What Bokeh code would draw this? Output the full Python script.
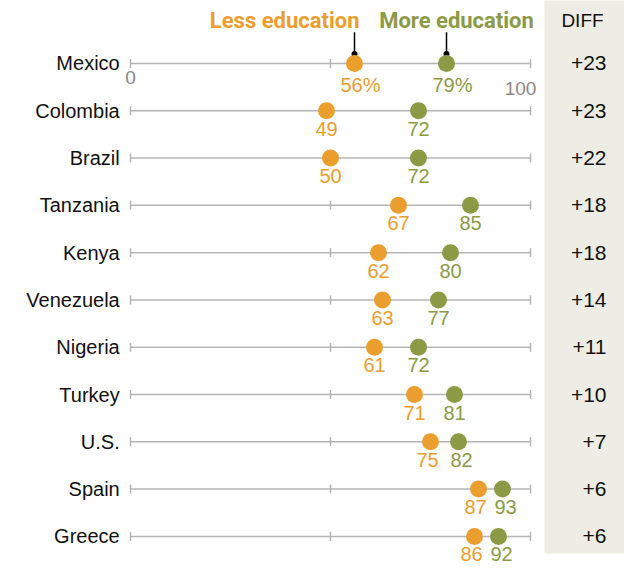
from bokeh.plotting import figure
from bokeh.models import ColumnDataSource, Range1d
from bokeh.core.properties import value
from bokeh.embed import file_html
from bokeh.resources import INLINE

countries = ["Mexico", "Colombia", "Brazil", "Tanzania", "Kenya", "Venezuela",
             "Nigeria", "Turkey", "U.S.", "Spain", "Greece"]
less_edu = [56, 49, 50, 67, 62, 63, 61, 71, 75, 87, 86]
more_edu = [79, 72, 72, 85, 80, 77, 72, 81, 82, 93, 92]
diff_labels = ["+23", "+23", "+22", "+18", "+18", "+14", "+11", "+10", "+7", "+6", "+6"]
scale_ticks = [0, 50, 100]

ORANGE = "#EA9E2E"
GREEN = "#8C9A46"
GREY_LINE = "#B4B4B4"
PANEL = "#EEEDE5"
FONT = "Liberation Sans"
BOLD_FONT = "Roboto"

n = len(countries)
rows = list(range(n))

p = figure(width=624, height=569, output_backend="svg", toolbar_location=None,
           x_range=Range1d(-32.5, 123.5), y_range=Range1d(10.70, -1.332),
           min_border=0, outline_line_color=None)
p.axis.visible = False
p.grid.visible = False
p.background_fill_color = "white"

# DIFF panel
p.quad(left=[103.5], right=[130], top=[-2], bottom=[10.36],
       fill_color=PANEL, line_color=None)

# row lines
p.segment(x0=[0] * n, x1=[100] * n, y0=rows, y1=rows, line_color=GREY_LINE, line_width=1.5)
# ticks
tx, ty = [], []
for r in rows:
    for t in scale_ticks:
        tx.append(t)
        ty.append(r)
p.scatter(x=tx, y=ty, marker="dash", angle=1.5708, size=9, line_color=GREY_LINE, line_width=1.5)

# country labels
p.text(x=[-2.7] * n, y=rows, text=countries, text_align="right", text_baseline="middle",
       text_font=value(FONT), text_font_size="20px", text_color="#111111")

# leader lines for legend (first row)
p.segment(x0=[less_edu[0], more_edu[0]], x1=[less_edu[0], more_edu[0]],
          y0=[-0.66, -0.66], y1=[-0.2, -0.2], line_color="black", line_width=1.5)
p.scatter(x=[less_edu[0], more_edu[0]], y=[-0.2, -0.2], size=6, fill_color="black", line_color=None)

# dots
p.scatter(x=less_edu, y=rows, size=17, fill_color=ORANGE, line_color=None)
p.scatter(x=more_edu, y=rows, size=17, fill_color=GREEN, line_color=None)

# value labels
less_txt = [str(v) + ("%" if i == 0 else "") for i, v in enumerate(less_edu)]
more_txt = [str(v) + ("%" if i == 0 else "") for i, v in enumerate(more_edu)]
less_off, more_off = [], []
for i in rows:
    if i == 0:
        less_off.append(6)
        more_off.append(6)
    elif more_edu[i] - less_edu[i] < 8:
        less_off.append(-3)
        more_off.append(3)
    else:
        less_off.append(0)
        more_off.append(0)
ls = ColumnDataSource(dict(x=less_edu, y=rows, t=less_txt, o=less_off))
ms = ColumnDataSource(dict(x=more_edu, y=rows, t=more_txt, o=more_off))
p.text(x="x", y="y", text="t", x_offset="o", y_offset=11, source=ls, text_align="center",
       text_baseline="top", text_font=value(FONT), text_font_size="20px", text_color=ORANGE)
p.text(x="x", y="y", text="t", x_offset="o", y_offset=11, source=ms, text_align="center",
       text_baseline="top", text_font=value(FONT), text_font_size="20px", text_color=GREEN)

# scale labels
p.text(x=[0], y=[0], text=["0"], y_offset=8, text_align="center", text_baseline="top",
       text_font=value(FONT), text_font_size="19px", text_color="#888888")
p.text(x=[100], y=[0], text=["100"], x_offset=-10, y_offset=19, text_align="center", text_baseline="top",
       text_font=value(FONT), text_font_size="19px", text_color="#888888")

# legend texts
p.text(x=[less_edu[0]], y=[-0.9], text=["Less education"], x_offset=5, text_align="right",
       text_baseline="middle", text_font=value(BOLD_FONT), text_font_style="bold",
       text_font_size="22px", text_color=ORANGE)
p.text(x=[more_edu[0]], y=[-0.9], text=["More education"], x_offset=10, text_align="center",
       text_baseline="middle", text_font=value(BOLD_FONT), text_font_style="bold",
       text_font_size="22px", text_color=GREEN)

# DIFF column
p.text(x=[113.0], y=[-0.9], text=["DIFF"], text_align="center", text_baseline="middle",
       text_font=value(FONT), text_font_size="19px", text_color="#111111")
p.text(x=[119.0] * n, y=rows, text=diff_labels, text_align="right", text_baseline="middle",
       text_font=value(FONT), text_font_size="21px", text_color="#111111")

open("out.html", "w").write(file_html(p, INLINE))
